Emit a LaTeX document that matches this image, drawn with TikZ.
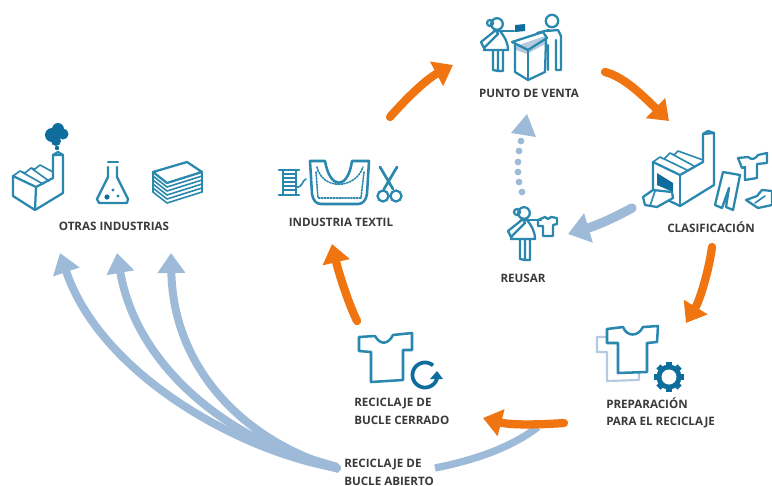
\documentclass[tikz,border=0pt]{standalone}
\usepackage{fontspec}
\setmainfont{Open Sans}
\usetikzlibrary{arrows.meta}
\definecolor{orangeA}{HTML}{F0740F}
\definecolor{blueA}{HTML}{9DBBD9}
\definecolor{tealA}{HTML}{2A87AE}
\definecolor{deepA}{HTML}{0F6D9E}
\definecolor{paleA}{HTML}{B5CADF}
\definecolor{textA}{HTML}{3A3A3C}
\tikzset{
  lab/.style={font=\bfseries\fontsize{8.7pt}{13pt}\selectfont,text=textA,inner sep=0pt,align=left},
  orangearrow/.style={draw=orangeA,line width=6.2pt,line cap=round,-{Triangle[length=14pt,width=20pt]}},
  bluearrow/.style={draw=blueA,line width=6pt,line cap=round,-{Triangle[length=15pt,width=20pt]}},
  icon/.style={draw=tealA,line width=1.7pt,line join=round,line cap=round},
  thinicon/.style={draw=tealA,line width=1.2pt,line join=round,line cap=round},
  womanicon/.pic={
    \draw[icon,fill=white] (495,30) .. controls (490,36) and (485,44) .. (484,50) -- (508,50) .. controls (508,42) and (504,36) .. (500,31) -- cycle;
    \draw[icon] (493,51) -- (493,70) -- (498,71) -- (498,51) (498,71) -- (503,71) -- (503,51);
    \draw[icon] (497,24) circle[radius=5.8];
    \draw[icon] (490,23) circle[radius=3];
    \draw[icon] (499,31) -- (514,31);
    \draw[icon,fill=white] (496,30) -- (481,42) -- (484,48) -- (498,34) -- cycle;
  },
}
\begin{document}
\begin{tikzpicture}[x=0.75pt,y=-0.75pt]
\useasboundingbox (0,0) rectangle (772,486);
\fill[white] (0,0) rectangle (772,486);

% labels
\node[lab,anchor=center] (otras) at (114,226) {OTRAS INDUSTRIAS};
\node[lab,anchor=center] (textil) at (341,222) {INDUSTRIA TEXTIL};
\node[lab,anchor=center] (punto) at (529,93) {PUNTO DE VENTA};
\node[lab,anchor=center] (clasif) at (711,227) {CLASIFICACIÓN};
\node[lab,anchor=center] (reusar) at (523,278) {REUSAR};
\node[lab,anchor=north west] (prep) at (606,397) {PREPARACIÓN\\PARA EL RECICLAJE};
\node[lab,anchor=north west] (cerrado) at (354,398) {RECICLAJE DE\\BUCLE CERRADO};
\node[lab,anchor=north west] (abierto) at (344,459) {RECICLAJE DE\\BUCLE ABIERTO};

% arrow ends
\coordinate (hub) at (337,468);
\coordinate (o1) at (60,253);
\coordinate (o2) at (117,253);
\coordinate (o3) at (171,253);
\coordinate (ab) at (435,468);
\coordinate (abe) at (538,427);
\coordinate (a1s) at (390,117);
\coordinate (a1e) at (453,65);
\coordinate (a2s) at (605,72);
\coordinate (a2e) at (669,121);
\coordinate (a3s) at (712,247);
\coordinate (a3e) at (686,323);
\coordinate (a4s) at (564,423);
\coordinate (a4e) at (483,418);
\coordinate (a5s) at (357,321);
\coordinate (a5e) at (332,244);
\coordinate (a6s) at (632,208);
\coordinate (a6e) at (568,234);
\coordinate (d0) at (522,192);
\coordinate (d1) at (527,114);

% open-loop arrows
\draw[bluearrow] (hub) .. controls (235,450) and (100,372) .. (o1);
\draw[bluearrow] (hub) .. controls (235,445) and (137,370) .. (o2);
\draw[bluearrow] (hub) .. controls (240,440) and (173,365) .. (o3);
\fill[blueA] (338,463) -- (290,449) -- (254,431) -- (236,434) -- (280,455) -- (338,473) -- cycle;
\draw[draw=blueA,line width=5.5pt] (ab) .. controls (475,460) and (510,448) .. (abe);

% main cycle
\draw[orangearrow] (a1s) .. controls (405,100) and (425,80) .. (a1e);
\draw[orangearrow] (a2s) .. controls (625,77) and (645,98) .. (a2e);
\draw[orangearrow] (a3s) .. controls (709,270) and (700,300) .. (a3e);
\draw[orangearrow] (a4s) .. controls (535,425) and (510,425) .. (a4e);
\draw[orangearrow] (a5s) .. controls (347,300) and (338,270) .. (a5e);
\draw[draw=blueA,line width=7pt,line cap=round,-{Triangle[length=16pt,width=22pt]}] (a6s) .. controls (612,219) and (595,226) .. (a6e);

% dotted reuse arrow
\foreach \px/\py in {521/141,519/151,518/162,518/172,519/182,522/192}
  \fill[blueA] (\px,\py) circle[radius=3.4];
\fill[blueA] (d1) -- (536,137) -- (511,133) -- cycle;

% ---- OTRAS INDUSTRIAS icons
\draw[icon] (13,176) -- (13,196) -- (35,210) -- (63,193) -- (63,155) -- (53,155) -- (53,178) -- (36,187) -- cycle;
\draw[icon] (35,210) -- (36,187);
\draw[thinicon] (13,176) -- (20,171) -- (43,184) (20,171) -- (25,173) -- (31,168) -- (49,181) (31,168) -- (35,169) -- (40,165) -- (53,172);
\draw[icon] (53,155) -- (58,152) -- (63,155);
\fill[deepA] (52,135) circle[radius=7] (58,129) circle[radius=6] (63,134) circle[radius=5.5] (56,141) circle[radius=5];
\fill[deepA] (57,148) circle[radius=2.2];
% flask
\draw[icon] (108,162) -- (118,162);
\draw[icon] (108,167) -- (108,177) -- (97,199) -- (99,203) -- (127,203) -- (128,199) -- (117,177) -- (117,167);
\fill[deepA] (107,197) circle[radius=2.6];
\fill[tealA] (113,190) circle[radius=1.7] (118,196) circle[radius=1.7];
% stack of paper
\foreach \dy in {20,16,12,8,4} \draw[thinicon] (153,172+\dy) -- (167,183+\dy) -- (202,172+\dy);
\draw[thinicon] (153,172) -- (153,192) (202,172) -- (202,192);
\draw[icon,fill=white] (153,172) -- (187,162) -- (202,172) -- (167,183) -- cycle;

% ---- INDUSTRIA TEXTIL icons
\draw[icon,line width=2pt] (279,170) -- (299,170) (279,195) -- (299,195);
\draw[icon] (283,170) -- (283,195) (296,170) -- (296,195);
\foreach \yy in {174,178,182,186,190} \draw[thinicon] (283,\yy) -- (296,\yy);
\draw[thinicon] (296,187) .. controls (303,188) and (302,180) .. (306,179);
\draw[icon,line width=1.9pt] (310,161) -- (325,161) .. controls (330,190) and (348,190) .. (352,161) -- (369,161) -- (367,194) .. controls (366,200) and (363,204) .. (358,204) -- (321,204) .. controls (316,204) and (313,200) .. (312,194) -- cycle;
\draw[thinicon,densely dotted] (317,167) .. controls (322,190) and (355,190) .. (363,167);
\draw[thinicon,densely dotted] (316,172) -- (318,198) -- (361,198) -- (364,172);
\draw[icon,line width=2pt] (380,167) -- (393,189) (397,167) -- (384,189);
\draw[icon] (383,196) circle[radius=5.5] (396,196) circle[radius=5.5];

% ---- PUNTO DE VENTA icons
\pic at (0,0) {womanicon};
\fill[deepA] (515,25) -- (525,24) -- (525,31) -- (515,32) -- cycle;
\draw[icon] (552,21) circle[radius=6.2];
\draw[icon] (547,31) -- (558,30) -- (561,36) -- (561,70) -- (556,70) -- (556,40) (548,70) -- (548,45);
\draw[icon] (537,33) -- (549,30);
\fill[paleA] (516,46) -- (545,36) -- (545,44) -- (527,54) -- (516,50) -- cycle;
\draw[icon] (512,42) -- (543,32) -- (547,38) -- (528,50) -- cycle;
\draw[icon] (515,44) -- (515,72) -- (528,80) -- (545,72) -- (546,39);
\draw[icon] (528,50) -- (528,80);

% ---- CLASIFICACION icons
\draw[icon] (653,162) -- (653,193) -- (680,206) -- (714,185) -- (714,133) -- (703,134) -- (703,162) -- (680,175) -- cycle;
\draw[icon] (680,175) -- (680,206);
\draw[icon] (703,134) -- (708,131) -- (714,133);
\draw[thinicon] (653,162) -- (660,157) -- (687,170) (660,157) -- (664,159) -- (670,153) -- (694,166) (670,153) -- (674,155) -- (678,151) -- (703,160);
\fill[deepA] (657,173) -- (673,183) -- (673,192) -- (657,185) -- cycle;
\draw[icon,fill=white] (643,197) -- (653,190) -- (672,192) -- (673,198) -- (657,207) -- (645,205) -- cycle;
\draw[thinicon] (655,191) -- (650,206);
% trousers
\draw[icon] (723,172) -- (740,175) -- (733,210) -- (726,207) -- (729,188) -- (722,208) -- (715,205) -- cycle;
% shirt
\draw[icon] (738,158) -- (748,157) .. controls (752,161) and (756,158) .. (758,155) -- (767,153) -- (767,163) -- (757,164) -- (757,178) -- (745,180) -- (745,167) -- (742,168) -- cycle;
% shoes
\draw[icon,fill=white] (746,200) -- (757,196) -- (762,190) -- (772,191) -- (772,205) -- (758,208) -- cycle;
\draw[thinicon] (755,203) -- (765,196);

% ---- REUSAR icons
\pic at (27,189) {womanicon};
\draw[icon] (538,220) -- (545,217) -- (548,219) -- (551,217) -- (557,218) -- (557,224) -- (553,225) -- (553,236) -- (543,236) -- (543,226) -- (538,226) -- cycle;

% ---- PREPARACION icons
\draw[draw=paleA,line width=1.6pt,line join=round] (607,337) -- (597,337) -- (597,352) -- (607,352) -- (607,381) -- (639,380) -- (639,373);
\draw[icon,line width=1.9pt] (607,343) -- (607,329) -- (623,327) .. controls (627,337) and (638,337) .. (643,327) -- (658,326) -- (657,342) -- (647,343) -- (647,372) -- (618,373) -- (618,343) -- cycle;
\fill[deepA] (669,377) circle[radius=12.5];
\foreach \a in {0,45,...,315} \fill[deepA,rotate around={\a:(669,377)}] (666,362) rectangle (672,368);
\fill[white] (669,377) circle[radius=7.5];

% ---- RECICLAJE CERRADO icons
\draw[icon,line width=1.9pt] (359,337) -- (359,351) -- (371,352) -- (371,382) -- (403,380) -- (403,350) -- (412,350) -- (412,333) -- (393,335) .. controls (388,345) and (380,345) .. (375,336) -- cycle;
\draw[deepA,line width=2.8pt] plot[domain=-50:-345,samples=40] ({425+12.5*cos(\x)},{375+12.5*sin(\x)});
\fill[deepA] (430,379) -- (443,379) -- (437,371) -- cycle;
\end{tikzpicture}
\end{document}
